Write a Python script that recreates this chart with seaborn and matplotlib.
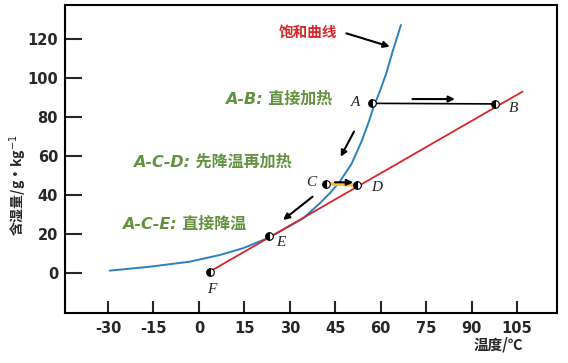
import numpy as np
import pandas as pd
import matplotlib
matplotlib.use("Agg")
import matplotlib.pyplot as plt
import seaborn as sns

# ---- data ----
sat_temp = [-29.4, -16.2, -3.0, 6.9, 14.6, 21.2, 26.7, 34.4, 39.9, 43.2, 46.5,
            50.4, 53.7, 56.2, 57.5, 59.7, 61.9, 64.1, 66.7]
sat_moist = [1.2, 3.2, 5.8, 9.2, 12.7, 16.9, 21.2, 28.0, 35.7, 40.9, 46.8,
             56.0, 67.5, 78.0, 84.5, 93.0, 102.6, 114.4, 127.2]
iso_temp = [3.6, 106.8]
iso_moist = [0.7, 93.0]
state_names = ["A", "B", "C", "D", "E", "F"]
state_temp = [57.3, 97.9, 41.8, 52.3, 23.0, 3.6]
state_moist = [87.0, 86.7, 45.8, 45.1, 19.2, 0.7]
x_ticks = [-30, -15, 0, 15, 30, 45, 60, 75, 90, 105]
y_ticks = [0, 20, 40, 60, 80, 100, 120]

sns.set_theme(style="white")
plt.rcParams['font.family'] = ['DejaVu Sans', 'Noto Sans CJK SC']
plt.rcParams['axes.unicode_minus'] = False

fig = plt.figure(figsize=(5.68, 3.63), dpi=100)
ax = fig.add_axes([0.1144, 0.139, 0.8662, 0.847])

sat = pd.DataFrame({"t": sat_temp, "w": sat_moist})
iso = pd.DataFrame({"t": iso_temp, "w": iso_moist})
sns.lineplot(data=sat, x="t", y="w", ax=ax, color="#2b80bd", lw=1.4, sort=False)
sns.lineplot(data=iso, x="t", y="w", ax=ax, color="#d8262a", lw=1.3, sort=False)

st = dict(zip(state_names, zip(state_temp, state_moist)))
# A-B line
ax.plot([st["A"][0], st["B"][0]], [st["A"][1], st["B"][1]], color="black", lw=1.2, zorder=3)
# C-D yellow line
ax.plot([st["C"][0], st["D"][0]], [st["C"][1], st["D"][1]], color="#f2c230", lw=2.5, zorder=3)

for n in state_names:
    ax.plot(st[n][0], st[n][1], marker="o", ms=5.5, fillstyle="left", color="black",
            markerfacecoloralt="white", mec="black", mew=0.8, zorder=5, ls="none")

lab_off = {"A": (-4.0, 0.2, "right", "center"), "B": (4.5, -2.3, "left", "center"),
           "C": (-3.0, 0.4, "right", "center"), "D": (4.5, -1.5, "left", "center"),
           "E": (2.5, -3.8, "left", "center"), "F": (0.8, -9.0, "center", "center")}
for n in state_names:
    dx, dy, ha, va = lab_off[n]
    ax.text(st[n][0] + dx, st[n][1] + dy, n, family="Liberation Serif", style="italic",
            fontsize=11, ha=ha, va=va, color="#222222")

green = "#62923f"
ax.text(36, 123.6, "饱和曲线", color="#d8262a", fontsize=10.5, weight="bold",
        family=["Noto Sans CJK SC"], ha="center", va="center")
for txt, (x, y) in [("A-B: 直接加热", (8.6, 89.2)),
                    ("A-C-D: 先降温再加热", (-21.8, 56.9)),
                    ("A-C-E: 直接降温", (-25.4, 25.1))]:
    ax.text(x, y, txt, color=green, fontsize=11.5, weight="bold", style="italic",
            family=["DejaVu Sans", "Noto Sans CJK SC"], ha="left", va="center")

arrows = [((48.7, 122.9), (63.0, 116.1)),
          ((70.5, 89.2), (84.5, 89.2)),
          ((51.2, 72.5), (46.8, 59.6)),
          ((44.9, 46.5), (50.9, 46.5)),
          ((37.5, 39.1), (27.8, 27.2))]
for (x0, y0), (x1, y1) in arrows:
    ax.annotate("", xy=(x1, y1), xytext=(x0, y0),
                arrowprops=dict(arrowstyle="-|>", color="black", lw=1.5,
                                mutation_scale=9, shrinkA=0, shrinkB=0))

ax.set_xlim(-44.2, 118.2)
ax.set_ylim(-20.3, 137.4)
ax.set_xticks(x_ticks)
ax.set_yticks(y_ticks)
ax.set_xticklabels([str(v) for v in x_ticks], fontsize=10.5, weight="bold")
ax.set_yticklabels([str(v) for v in y_ticks], fontsize=10.5, weight="bold")
ax.tick_params(axis="y", direction="in", length=12, width=1.5, pad=5, left=True)
ax.tick_params(axis="x", direction="in", length=9, width=1.5, pad=6, bottom=True)
for s in ax.spines.values():
    s.set_color("black")
    s.set_linewidth(1.5)
ax.set_xlabel("")
ax.set_ylabel("")
fig.text(0.032, 0.49, "含湿量/g·kg$^{-1}$", rotation=90, ha="center", va="center",
         fontsize=10, weight="bold", family=["Noto Sans CJK SC", "DejaVu Sans"])
fig.text(0.878, 0.05, "温度/℃", ha="center", va="center", fontsize=10.5, weight="bold",
         family=["Noto Sans CJK SC", "DejaVu Sans"])

fig.savefig("out.png", dpi=100)
